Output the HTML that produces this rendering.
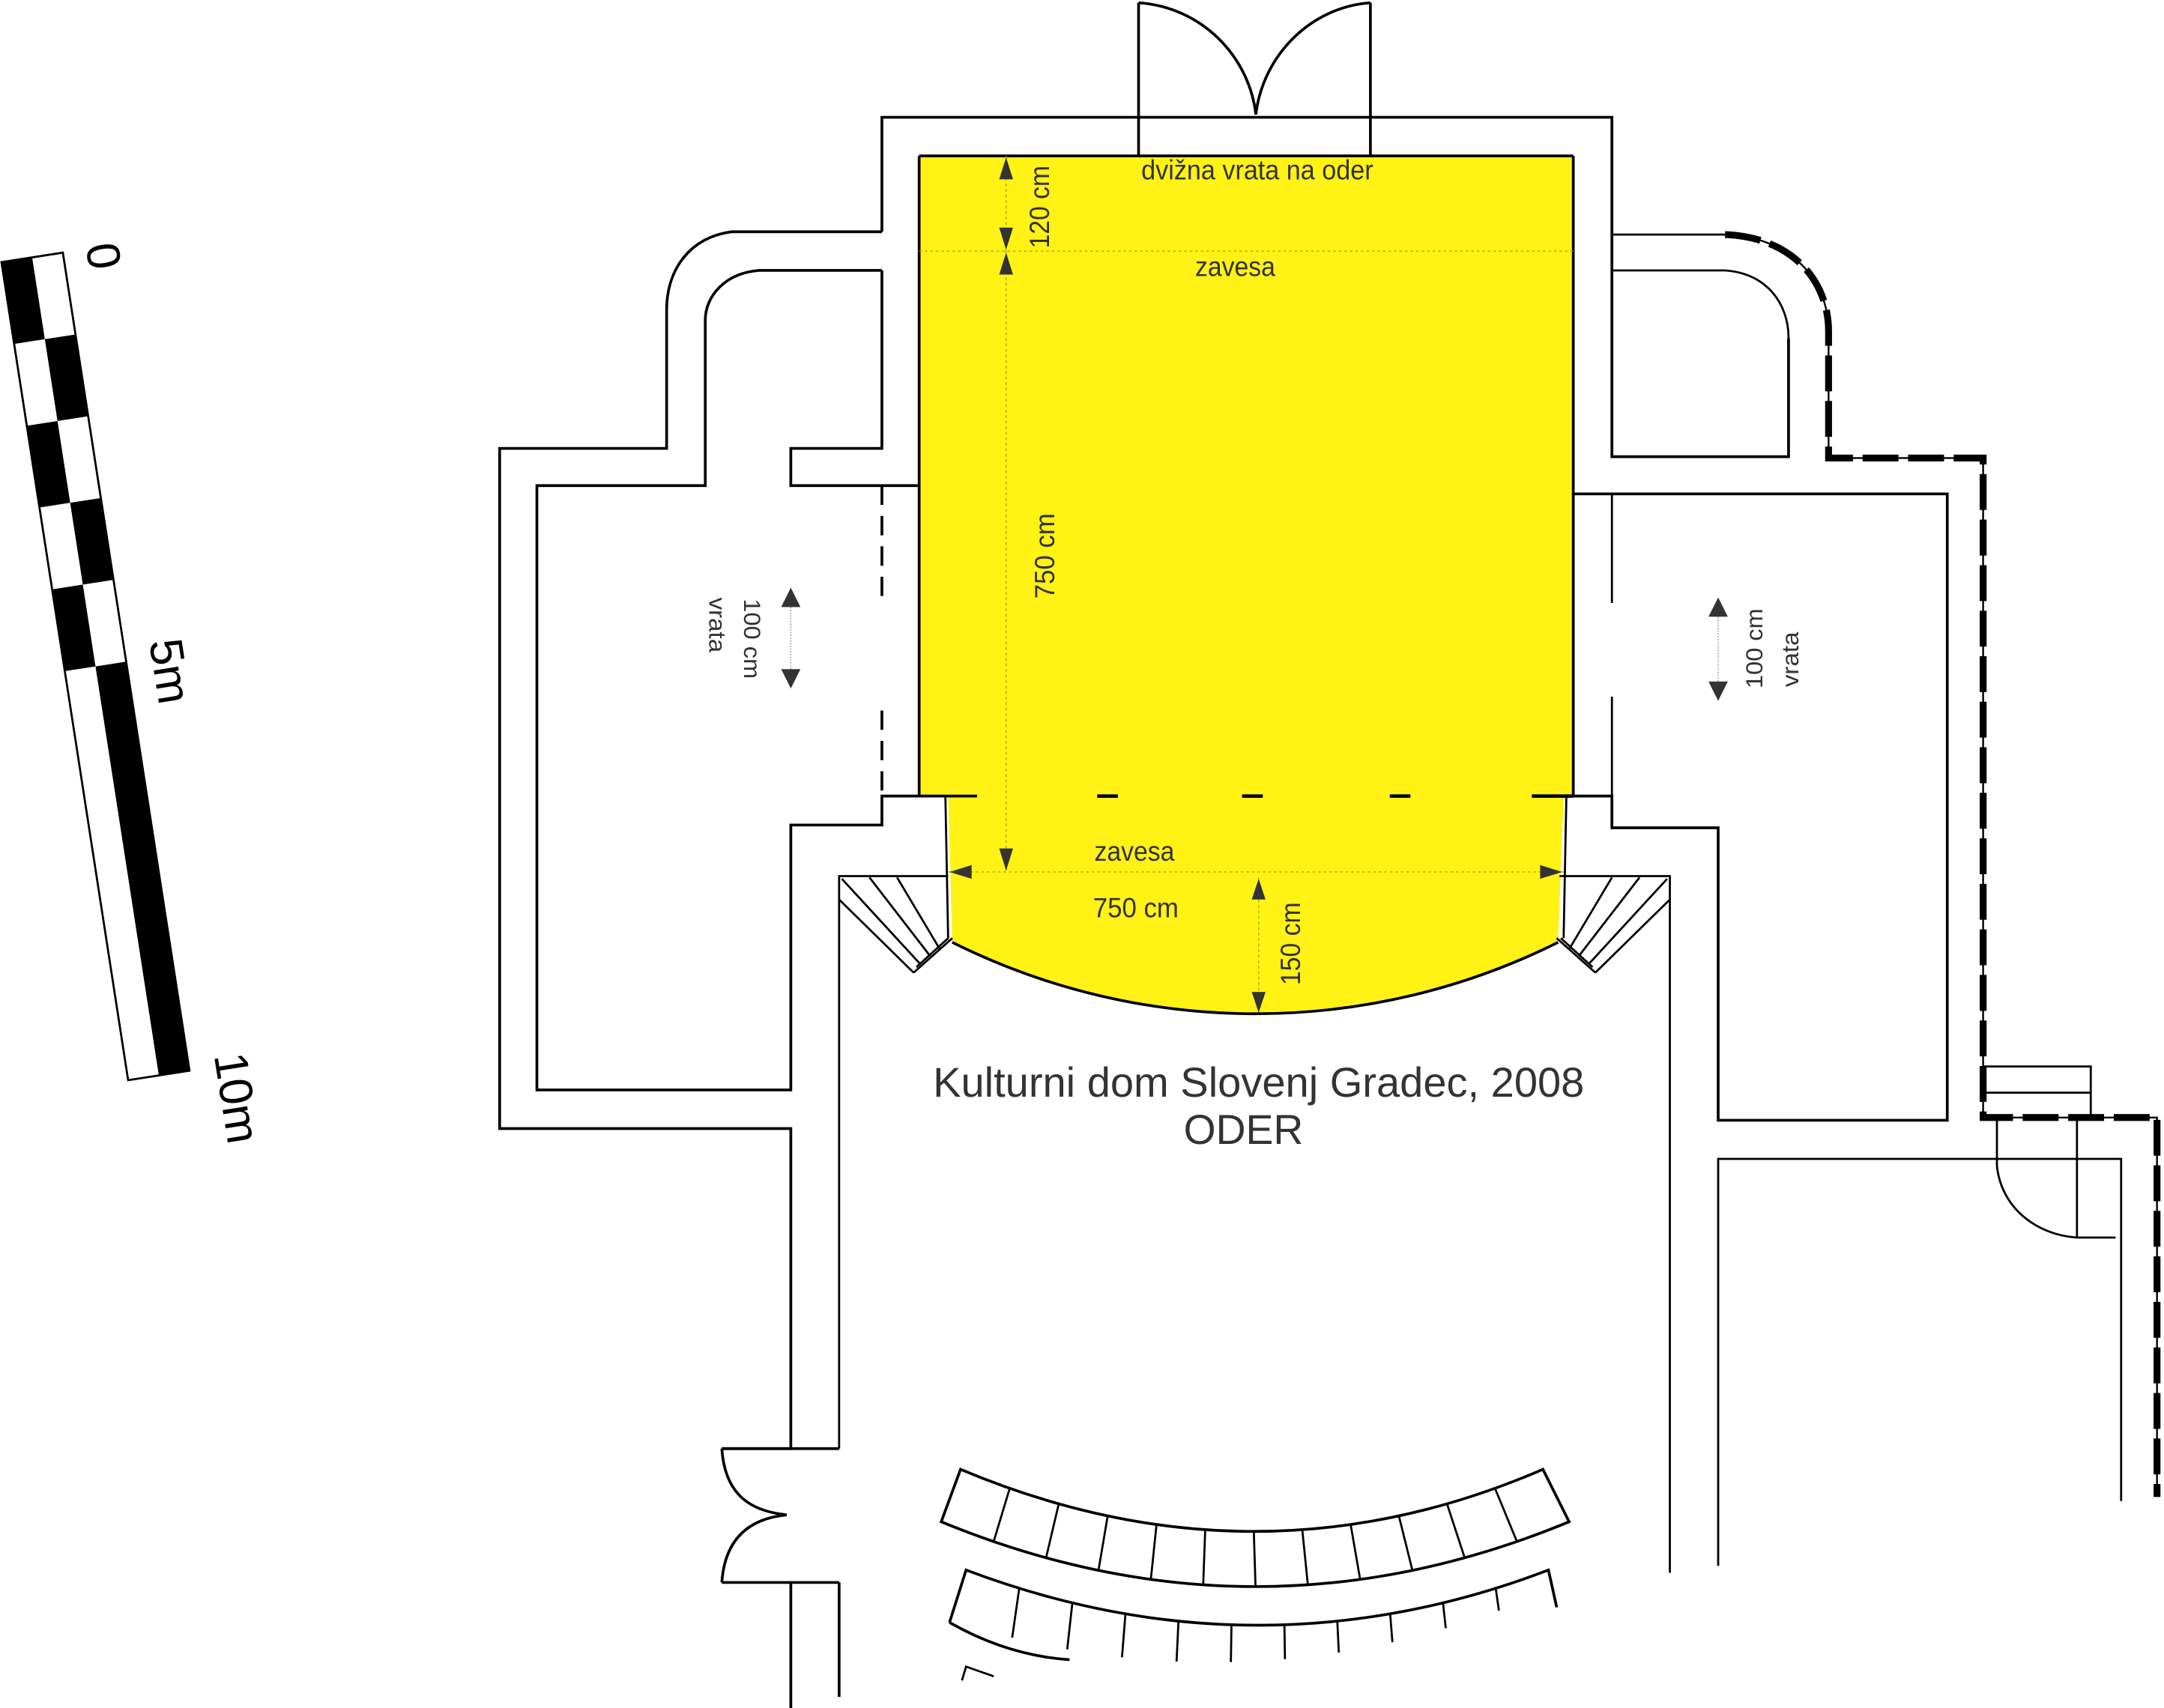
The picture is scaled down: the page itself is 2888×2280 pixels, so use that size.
<!DOCTYPE html>
<html><head><meta charset="utf-8">
<style>
html,body{margin:0;padding:0;background:#fff;}
svg{display:block;}
text{font-family:"Liberation Sans",sans-serif;fill:#333;}
</style></head>
<body>
<svg id="s" width="2888" height="2280" viewBox="0 0 1568 1238" xmlns="http://www.w3.org/2000/svg">
<!-- scale bar -->
<g transform="translate(1,190) rotate(-8.8)">
  <rect x="0" y="0" width="45" height="600" fill="#fff" stroke="#000" stroke-width="1.5"/>
  <rect x="0" y="0" width="22.5" height="60" fill="#000"/>
  <rect x="22.5" y="60" width="22.5" height="60" fill="#000"/>
  <rect x="0" y="120" width="22.5" height="60" fill="#000"/>
  <rect x="22.5" y="180" width="22.5" height="60" fill="#000"/>
  <rect x="0" y="240" width="22.5" height="60" fill="#000"/>
  <rect x="22.5" y="300" width="22.5" height="300" fill="#000"/>
</g>
<text transform="translate(62,178) rotate(81)" font-size="34" style="fill:#000">0</text>
<text transform="translate(108,465) rotate(81)" font-size="34" style="fill:#000">5m</text>
<text transform="translate(155,765) rotate(81)" font-size="34" style="fill:#000">10m</text>

<!-- stage yellow -->
<path d="M666,113 L1140,113 L1140,577 L1133,577 L1129,683 A491,491 0 0 1 690,683 L687,577 L666,577 Z" fill="#FFF214" stroke="none"/>
<path d="M1129,683 A491,491 0 0 1 690,683" fill="none" stroke="#000" stroke-width="2"/>
<line x1="666" y1="113" x2="1140" y2="113" stroke="#000" stroke-width="2"/>
<line x1="1140" y1="113" x2="1140" y2="577" stroke="#000" stroke-width="2"/>
<line x1="666" y1="113" x2="666" y2="577" stroke="#000" stroke-width="2"/>

<g fill="none" stroke="#000" stroke-width="2">
  <!-- top doors -->
  <line x1="825" y1="2" x2="825" y2="113"/>
  <line x1="993" y1="2" x2="993" y2="113"/>
  <path d="M825,2 C870,5 905,40 910,83"/>
  <path d="M993,2 C950,5 915,40 910,83"/>
  <!-- top outer wall -->
  <polyline points="639,168 639,85 1168,85 1168,331 1296,331 1296,245"/>
  <line x1="1168" y1="170" x2="1250" y2="170" stroke-width="1.5"/>
  <path d="M1168,196 L1250,196 C1280,198 1296,220 1296,245" stroke-width="1.5"/>
  <!-- left side walls -->
  <path d="M639,168 L530,168 C500,172 483,195 483,225 L483,325 L362,325 L362,818 L573,818 L573,1050"/>
  <path d="M639,196 L550,196 C525,198 511,215 511,232 L511,352 L389,352 L389,790 L573,790 L573,598 L639,598 L639,577 L708,577"/>
  <polyline points="639,196 639,325 573,325 573,352 666,352"/>
  <!-- right room -->
  <polyline points="1140,358 1411,358 1411,812 1245,812 1245,600 1168,600 1168,577 1140,577"/>
  <line x1="1168" y1="358" x2="1168" y2="437" stroke-width="1.5"/>
  <line x1="1168" y1="505" x2="1168" y2="577" stroke-width="1.5"/>
  <polyline points="1245,1135 1245,840 1537,840 1537,1088" stroke-width="1.5"/>
  <!-- stair box right -->
  <polyline points="1437,773 1515,773 1515,810" stroke-width="1.5"/>
  <line x1="1437" y1="792" x2="1515" y2="792" stroke-width="1.5"/>
  <line x1="1505" y1="812" x2="1505" y2="897" stroke-width="1.5"/>
  <path d="M1447,812 L1447,845 C1450,875 1475,895 1505,897" stroke-width="1.5"/>
  <line x1="1505" y1="897" x2="1533" y2="897" stroke-width="1.5"/>
  <!-- curtain dashes -->
  <line x1="795" y1="577" x2="810" y2="577" stroke-width="2.5"/>
  <line x1="900" y1="577" x2="915" y2="577" stroke-width="2.5"/>
  <line x1="1007" y1="577" x2="1022" y2="577" stroke-width="2.5"/>
  <line x1="1110" y1="577" x2="1140" y2="577" stroke-width="2.5"/>
  <!-- proscenium side lines -->
  <line x1="685" y1="577" x2="687" y2="680" stroke-width="1.5"/>
  <line x1="1135" y1="577" x2="1133" y2="680" stroke-width="1.5"/>
  <!-- left stairs -->
  <polyline points="608,1050 608,635 687,635" stroke-width="1.5"/>
  <g stroke-width="1.5">
    <line x1="608" y1="652" x2="662" y2="705"/>
    <line x1="610" y1="637" x2="667" y2="699"/>
    <line x1="630" y1="636" x2="674" y2="693"/>
    <line x1="650" y1="636" x2="681" y2="688"/>
    <line x1="662" y1="705" x2="690" y2="680"/>
    <line x1="664" y1="701" x2="687" y2="680"/>
  </g>
  <!-- right stairs -->
  <polyline points="1210,1140 1210,635 1130,635" stroke-width="1.5"/>
  <g stroke-width="1.5">
    <line x1="1210" y1="652" x2="1156" y2="705"/>
    <line x1="1208" y1="637" x2="1151" y2="699"/>
    <line x1="1188" y1="636" x2="1144" y2="693"/>
    <line x1="1168" y1="636" x2="1137" y2="688"/>
    <line x1="1156" y1="705" x2="1128" y2="680"/>
    <line x1="1154" y1="701" x2="1131" y2="680"/>
  </g>
  <!-- left bottom door -->
  <polyline points="573,1050 523,1050"/>
  <line x1="523" y1="1050" x2="608" y2="1050"/>
  <path d="M523,1050 C525,1080 540,1095 570,1098 C540,1101 525,1118 523,1147"/>
  <line x1="523" y1="1147" x2="608" y2="1147"/>
  <line x1="573" y1="1147" x2="573" y2="1238"/>
  <line x1="608" y1="1147" x2="608" y2="1230"/>
  <!-- seats row 1 -->
  <path d="M696,1065 Q910,1155 1118,1065 L1137,1103 Q910,1197 682,1103 Z"/>
  <!-- seats row 2 -->
  <path d="M688,1176 L700,1138 Q912,1218 1122,1138 L1128,1165"/>
  <path d="M688,1176 Q730,1200 775,1203" />
  <polyline points="697,1218 700,1208 720,1215" stroke-width="1.5"/>
  <g id="div" stroke-width="1.5"></g>
</g>

<!-- left dashed door wall -->
<g stroke="#000" stroke-width="2" stroke-dasharray="14,8" fill="none">
  <line x1="639" y1="352" x2="639" y2="437"/>
  <line x1="639" y1="515" x2="639" y2="577"/>
</g>
<line x1="666" y1="352" x2="666" y2="577" stroke="#000" stroke-width="1" stroke-dasharray="8,5"/>

<!-- thick dashed boundary -->
<g fill="none" stroke="#000">
  <path d="M1250,170 C1300,172 1325,205 1325,240 L1325,332 L1437,332 L1437,810 L1563,810 L1563,1085" stroke-width="1.3"/>
  <path d="M1250,170 C1300,172 1325,205 1325,240 L1325,332 L1437,332 L1437,810 L1563,810 L1563,1085" stroke-width="5" stroke-dasharray="26,7"/>
</g>

<!-- dimension lines -->
<g stroke="#B8A800" stroke-width="0.8" stroke-dasharray="2,2" fill="none">
  <line x1="666" y1="182" x2="1140" y2="182"/>
  <line x1="729" y1="113" x2="729" y2="632"/>
  <line x1="687" y1="632" x2="1133" y2="632"/>
  <line x1="912" y1="636" x2="912" y2="735"/>
</g>
<g stroke="#999" stroke-width="0.8" stroke-dasharray="1,1">
  <line x1="573" y1="430" x2="573" y2="496"/>
  <line x1="1245" y1="437" x2="1245" y2="505"/>
</g>
<g fill="#333">
  <polygon points="729,114 724,130 734,130"/>
  <polygon points="729,181 724,165 734,165"/>
  <polygon points="729,183 724,199 734,199"/>
  <polygon points="729,631 724,615 734,615"/>
  <polygon points="688,632 704,627 704,637"/>
  <polygon points="1132,632 1116,627 1116,637"/>
  <polygon points="912,637 907,652 917,652"/>
  <polygon points="912,734 907,719 917,719"/>
  <polygon points="573,426 566,440 580,440"/>
  <polygon points="573,499 566,485 580,485"/>
  <polygon points="1245,433 1238,447 1252,447"/>
  <polygon points="1245,508 1238,494 1252,494"/>
</g>

<!-- labels -->
<text x="911" y="130" font-size="20" text-anchor="middle" textLength="168" lengthAdjust="spacingAndGlyphs">dvižna vrata na oder</text>
<text x="895" y="200" font-size="20" text-anchor="middle" textLength="58" lengthAdjust="spacingAndGlyphs">zavesa</text>
<text transform="translate(760,150) rotate(-90)" font-size="20" text-anchor="middle" textLength="60" lengthAdjust="spacingAndGlyphs">120 cm</text>
<text transform="translate(764,403) rotate(-90)" font-size="20" text-anchor="middle" textLength="62" lengthAdjust="spacingAndGlyphs">750 cm</text>
<text x="822" y="624" font-size="20" text-anchor="middle" textLength="58" lengthAdjust="spacingAndGlyphs">zavesa</text>
<text x="823" y="665" font-size="20" text-anchor="middle" textLength="62" lengthAdjust="spacingAndGlyphs">750 cm</text>
<text transform="translate(942,684) rotate(-90)" font-size="20" text-anchor="middle" textLength="60" lengthAdjust="spacingAndGlyphs">150 cm</text>
<text transform="translate(539,463) rotate(90)" font-size="17" text-anchor="middle" textLength="58" lengthAdjust="spacingAndGlyphs">100 cm</text>
<text transform="translate(514,453) rotate(90)" font-size="17" text-anchor="middle" textLength="40" lengthAdjust="spacingAndGlyphs">vrata</text>
<text transform="translate(1277,470) rotate(-90)" font-size="17" text-anchor="middle" textLength="58" lengthAdjust="spacingAndGlyphs">100 cm</text>
<text transform="translate(1303,478) rotate(-90)" font-size="17" text-anchor="middle" textLength="40" lengthAdjust="spacingAndGlyphs">vrata</text>
<text x="912" y="795" font-size="30" text-anchor="middle" textLength="472" lengthAdjust="spacingAndGlyphs">Kulturni dom Slovenj Gradec, 2008</text>
<text x="901" y="829" font-size="30" text-anchor="middle">ODER</text>
</svg>
<script>
(function(){
  var g=document.getElementById('div'),ns='http://www.w3.org/2000/svg';
  function q(p0,c,p1,t){return (1-t)*(1-t)*p0+2*(1-t)*t*c+t*t*p1;}
  function L(x1,y1,x2,y2){var l=document.createElementNS(ns,'line');l.setAttribute('x1',x1);l.setAttribute('y1',y1);l.setAttribute('x2',x2);l.setAttribute('y2',y2);g.appendChild(l);}
  for(var k=1;k<12;k++){var t=k/12;
    L(q(696,910,1118,t),q(1065,1155,1065,t),q(682,910,1137,t),q(1103,1197,1103,t));}
  for(var k=1;k<11;k++){var t=k/11;
    var x=q(700,912,1122,t),y=q(1138,1218,1138,t);var len=38-24*t;
    var dx=(t-0.5)*0.35;L(x,y,x+dx*len,y+len);}
})();
</script>
</body></html>
